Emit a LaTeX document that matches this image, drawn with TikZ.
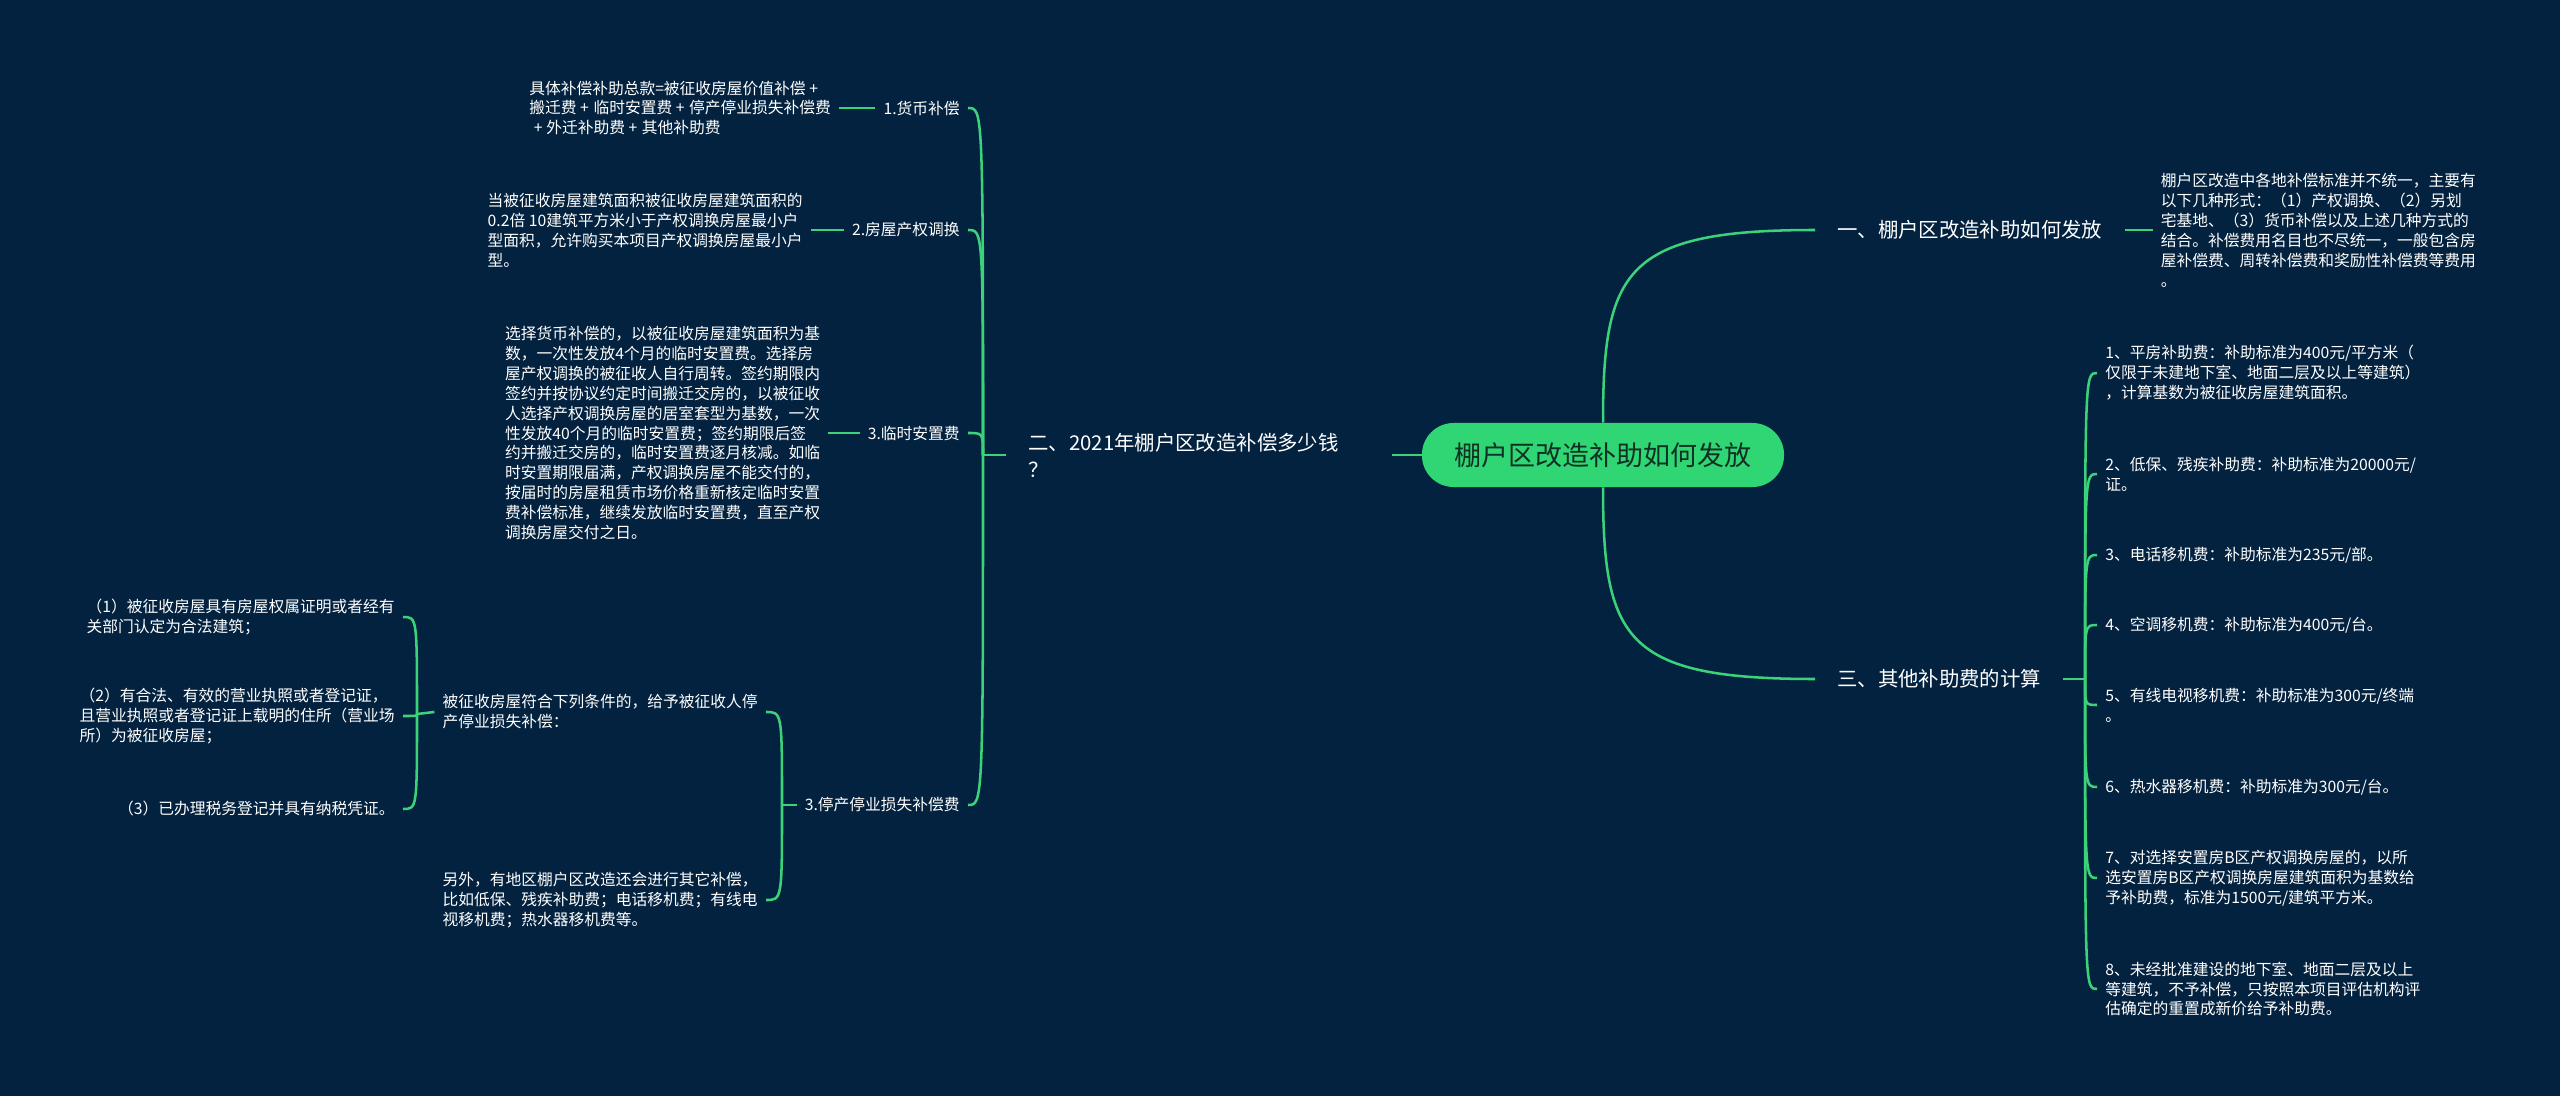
\documentclass[tikz,border=0pt]{standalone}
\usepackage{fontspec}
\setmainfont{Noto Sans CJK SC}
\usetikzlibrary{positioning}
\definecolor{bgnavy}{HTML}{03223F}
\definecolor{linkgreen}{HTML}{3BD27A}
\definecolor{pillgreen}{HTML}{2FD673}
\definecolor{pilltext}{HTML}{0F3024}

\begin{document}
\begin{tikzpicture}[
    x=0.025cm, y=-0.025cm,
    root/.style={rectangle, rounded corners=0.79cm, fill=pillgreen, text=pilltext,
                 minimum width=9.05cm, minimum height=1.6cm,
                 font=\fontsize{19.2pt}{23pt}\selectfont},
    branch/.style={text=white, inner xsep=15.6pt, inner ysep=3pt, align=left,
                 font=\fontsize{14.5pt}{19.2pt}\selectfont},
    lab/.style={text=white, inner xsep=5.7pt, inner ysep=2pt,
                 font=\fontsize{11.2pt}{14.2pt}\selectfont},
    leaf/.style={lab, align=left},
    link/.style={draw=linkgreen, line width=1.8pt},
  ]
  \useasboundingbox (0,0) rectangle (2560,1096);
  \fill[bgnavy] (0,0) rectangle (2560,1096);

  \node[root] (root) at (1603,455) {棚户区改造补助如何发放};
  \node[branch, text width=8.525cm, left=0.75cm of root] (howmuch) {二、2021年棚户区改造补偿多少钱\\？};
  \node[branch, anchor=west] (howpay) at (1815,230) {一、棚户区改造补助如何发放};
  \node[branch, anchor=west] (other) at (1815,679) {三、其他补助费的计算};

  \node[leaf, right=0.7cm of howpay] (payleaf) {棚户区改造中各地补偿标准并不统一，主要有\\以下几种形式：（1）产权调换、（2）另划\\宅基地、（3）货币补偿以及上述几种方式的\\结合。补偿费用名目也不尽统一，一般包含房\\屋补偿费、周转补偿费和奖励性补偿费等费用\\。};

  \node[leaf, anchor=west] (f1) at (2097,373) {1、平房补助费：补助标准为400元/平方米（\\仅限于未建地下室、地面二层及以上等建筑）\\，计算基数为被征收房屋建筑面积。};
  \node[leaf, anchor=west] (f2) at (2097,474) {2、低保、残疾补助费：补助标准为20000元/\\证。};
  \node[leaf, anchor=west] (f3) at (2097,555) {3、电话移机费：补助标准为235元/部。};
  \node[leaf, anchor=west] (f4) at (2097,625) {4、空调移机费：补助标准为400元/台。};
  \node[leaf, anchor=west] (f5) at (2097,705) {5、有线电视移机费：补助标准为300元/终端\\。};
  \node[leaf, anchor=west] (f6) at (2097,787) {6、热水器移机费：补助标准为300元/台。};
  \node[leaf, anchor=west] (f7) at (2097,878) {7、对选择安置房B区产权调换房屋的，以所\\选安置房B区产权调换房屋建筑面积为基数给\\予补助费，标准为1500元/建筑平方米。};
  \node[leaf, anchor=west] (f8) at (2097,989) {8、未经批准建设的地下室、地面二层及以上\\等建筑，不予补偿，只按照本项目评估机构评\\估确定的重置成新价给予补助费。};

  \node[lab, anchor=east] (cash) at (968,108) {1.货币补偿};
  \node[lab, anchor=east] (swap) at (968,230) {2.房屋产权调换};
  \node[lab, anchor=east] (temp) at (968,433) {3.临时安置费};
  \node[lab, anchor=east] (stop) at (968,805) {3.停产停业损失补偿费};

  \node[leaf, left=0.9cm of cash] (cashtxt) {具体补偿补助总款=被征收房屋价值补偿 +\\搬迁费 +\hspace{0.3em}临时安置费 +\hspace{0.3em}停产停业损失补偿费\\\hspace{0.3em}+ 外迁补助费 +\hspace{0.3em}其他补助费};
  \node[leaf, left=0.82cm of swap] (swaptxt) {当被征收房屋建筑面积被征收房屋建筑面积的\\0.2倍 10建筑平方米小于产权调换房屋最小户\\型面积，允许购买本项目产权调换房屋最小户\\型。};
  \node[leaf, left=0.78cm of temp] (temptxt) {选择货币补偿的，以被征收房屋建筑面积为基\\数，一次性发放4个月的临时安置费。选择房\\屋产权调换的被征收人自行周转。签约期限内\\签约并按协议约定时间搬迁交房的，以被征收\\人选择产权调换房屋的居室套型为基数，一次\\性发放40个月的临时安置费；签约期限后签\\约并搬迁交房的，临时安置费逐月核减。如临\\时安置期限届满，产权调换房屋不能交付的，\\按届时的房屋租赁市场价格重新核定临时安置\\费补偿标准，继续发放临时安置费，直至产权\\调换房屋交付之日。};

  \node[leaf, anchor=east] (cond) at (766,712) {被征收房屋符合下列条件的，给予被征收人停\\产停业损失补偿：};
  \node[leaf, anchor=east] (extra) at (766,900) {另外，有地区棚户区改造还会进行其它补偿，\\比如低保、残疾补助费；电话移机费；有线电\\视移机费；热水器移机费等。};

  \node[leaf, anchor=east] (c1) at (403,617) {（1）被征收房屋具有房屋权属证明或者经有\\关部门认定为合法建筑；};
  \node[leaf, anchor=east] (c2) at (403,716) {（2）有合法、有效的营业执照或者登记证，\\且营业执照或者登记证上载明的住所（营业场\\所）为被征收房屋；};
  \node[leaf, anchor=east] (c3) at (403,809) {（3）已办理税务登记并具有纳税凭证。};

  \coordinate (jm) at (983,455);
  \coordinate (jo) at (2085,679);
  \coordinate (js) at (782,805);
  \coordinate (jc) at (417,714);

  \draw[link] (root.north) .. controls (1603,270) and (1625,230) .. (howpay.west);
  \draw[link] (root.south) .. controls (1603,640) and (1625,679) .. (other.west);
  \draw[link] (root.west) -- (howmuch.east);
  \draw[link] (howpay.east) -- (payleaf.west);

  \draw[link] (other.east) -- (jo);
  \draw[link] (jo) .. controls (jo |- f1.west) .. (f1.west);
  \draw[link] (jo) .. controls (jo |- f2.west) .. (f2.west);
  \draw[link] (jo) .. controls (jo |- f3.west) .. (f3.west);
  \draw[link] (jo) .. controls (jo |- f4.west) .. (f4.west);
  \draw[link] (jo) .. controls (jo |- f5.west) .. (f5.west);
  \draw[link] (jo) .. controls (jo |- f6.west) .. (f6.west);
  \draw[link] (jo) .. controls (jo |- f7.west) .. (f7.west);
  \draw[link] (jo) .. controls (jo |- f8.west) .. (f8.west);

  \draw[link] (howmuch.west) -- (jm);
  \draw[link] (jm) .. controls (jm |- cash.east) .. (cash.east);
  \draw[link] (jm) .. controls (jm |- swap.east) .. (swap.east);
  \draw[link] (jm) .. controls (jm |- temp.east) .. (temp.east);
  \draw[link] (jm) .. controls (jm |- stop.east) .. (stop.east);
  \draw[link] (cashtxt.east) -- (cash.west);
  \draw[link] (swaptxt.east) -- (swap.west);
  \draw[link] (temptxt.east) -- (temp.west);

  \draw[link] (stop.west) -- (js);
  \draw[link] (js) .. controls (js |- cond.east) .. (cond.east);
  \draw[link] (js) .. controls (js |- extra.east) .. (extra.east);
  \draw[link] (cond.west) -- (jc);
  \draw[link] (jc) .. controls (jc |- c1.east) .. (c1.east);
  \draw[link] (jc) .. controls (jc |- c2.east) .. (c2.east);
  \draw[link] (jc) .. controls (jc |- c3.east) .. (c3.east);
\end{tikzpicture}
\end{document}
